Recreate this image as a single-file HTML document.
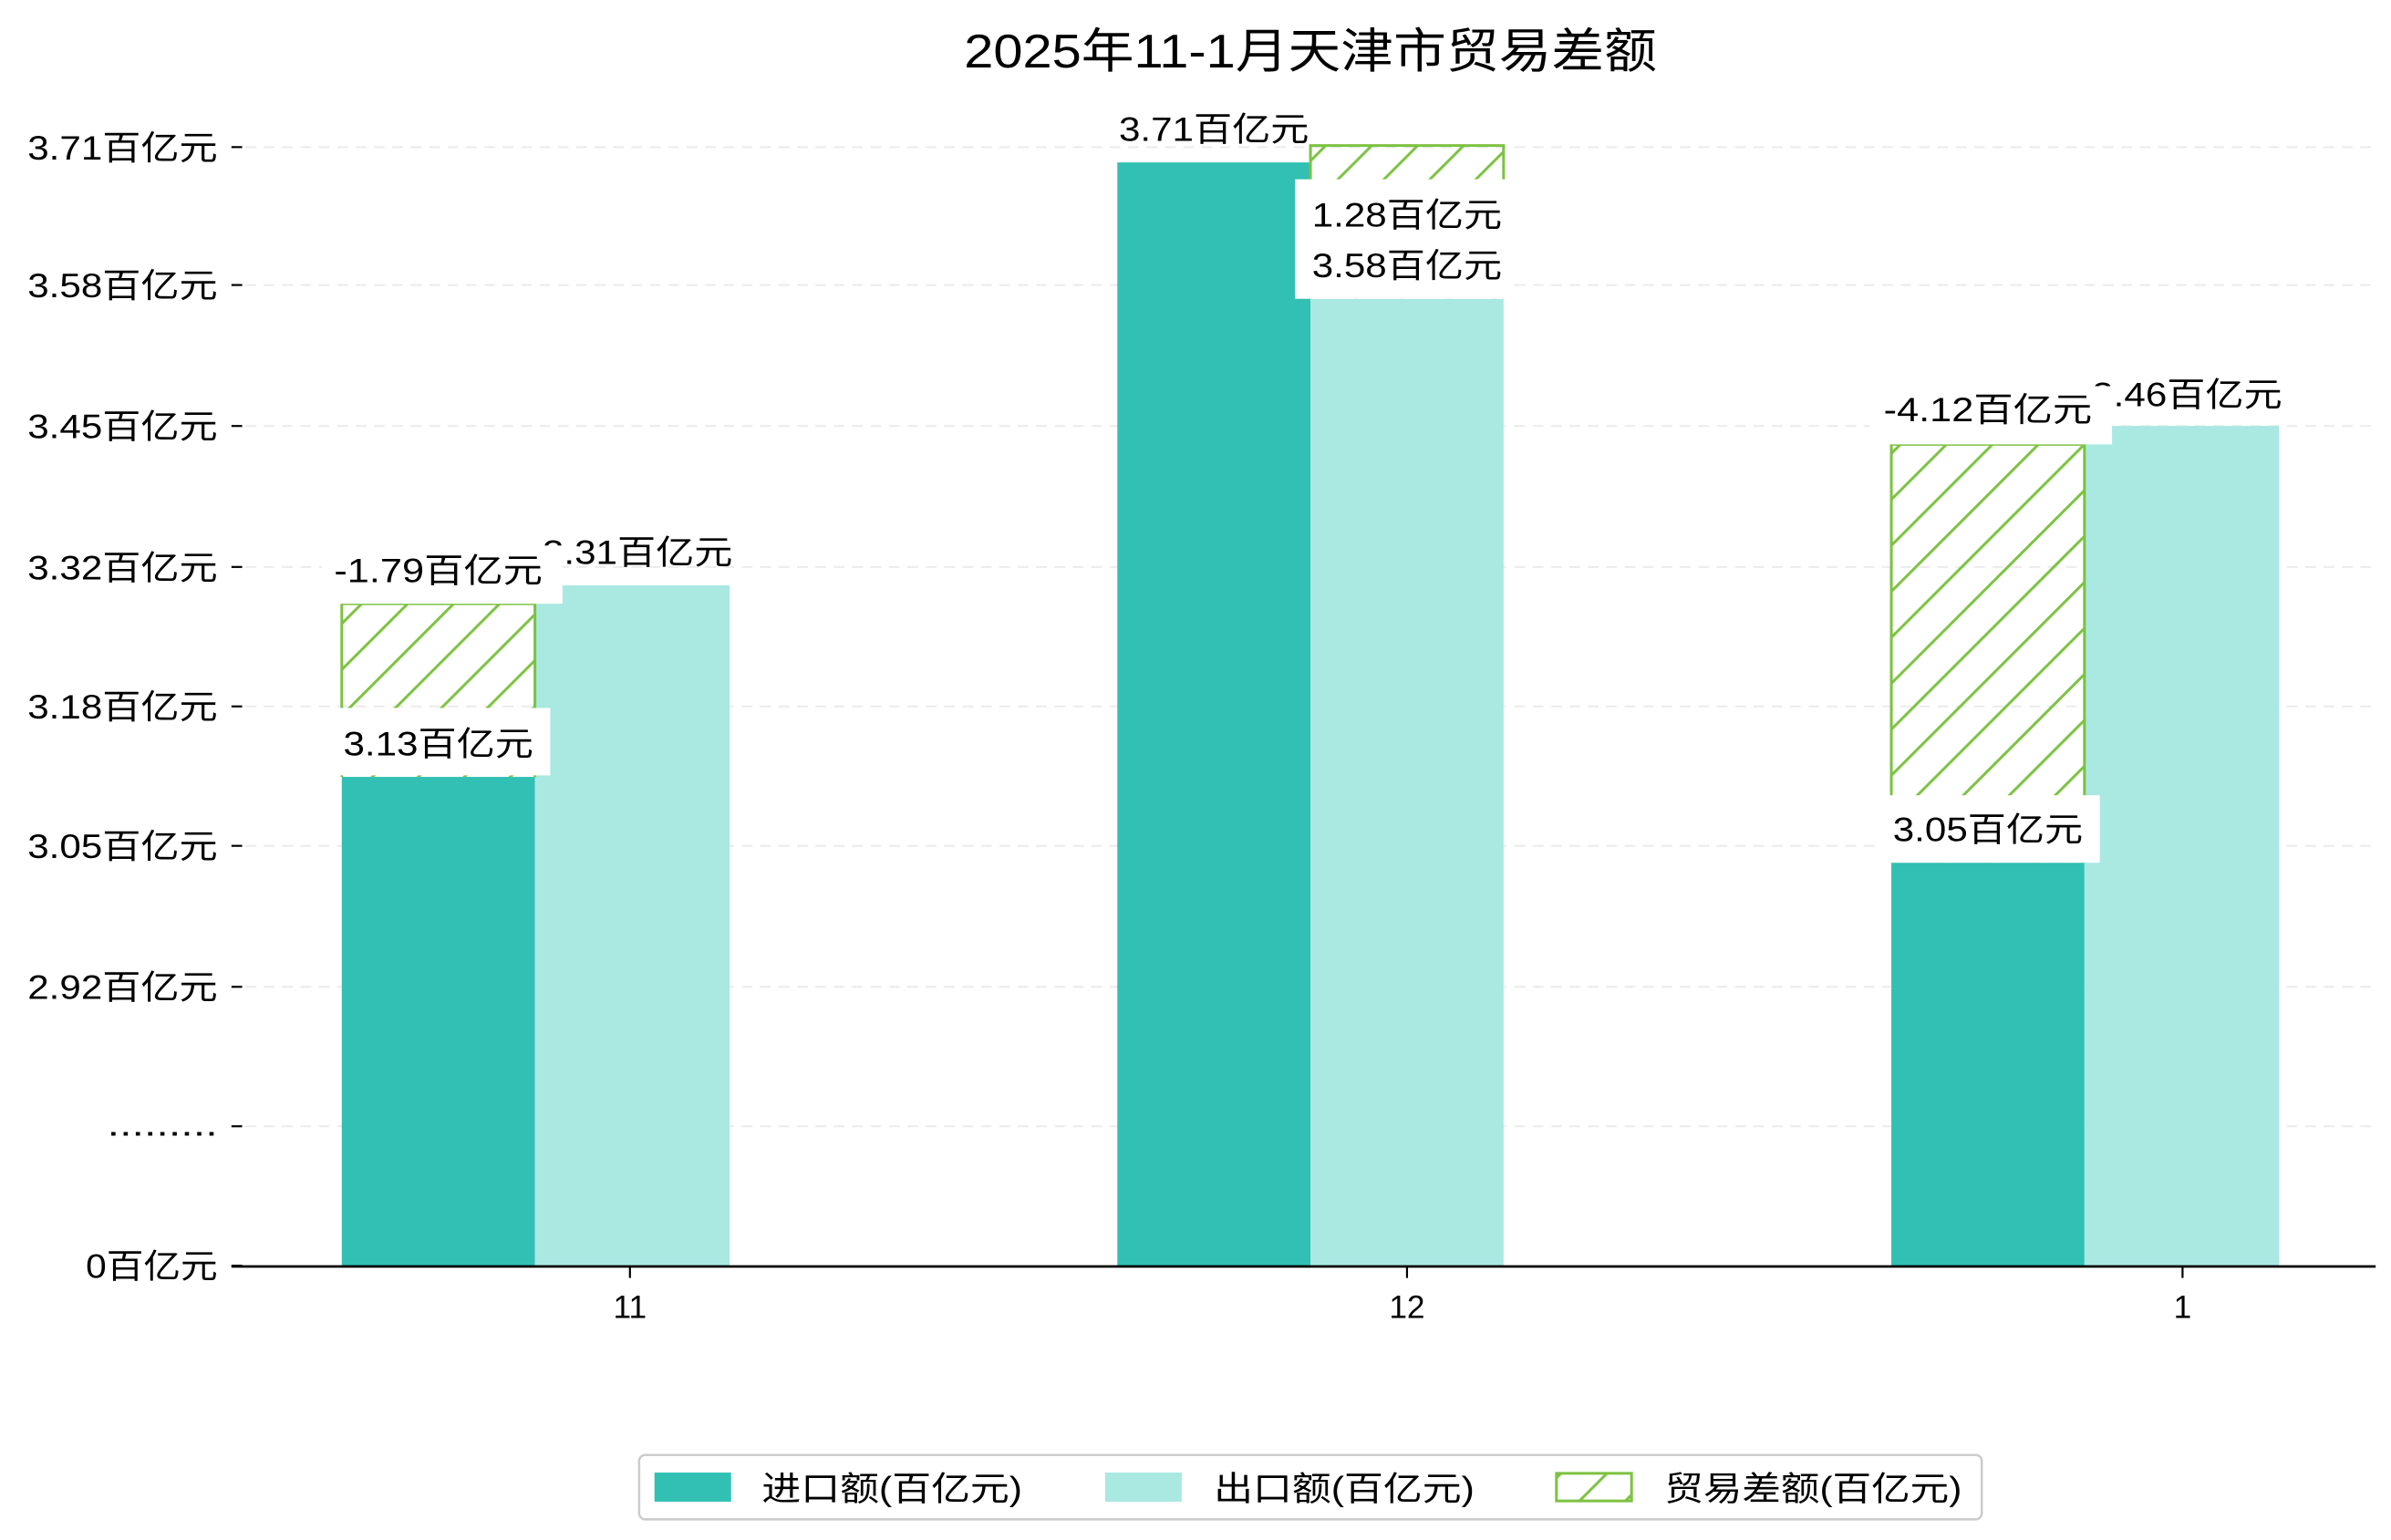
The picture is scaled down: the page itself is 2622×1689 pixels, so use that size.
<!DOCTYPE html>
<html><head><meta charset="utf-8"><style>
html,body{margin:0;padding:0;background:#fff;}
svg{display:block;}
text{font-family:"Liberation Sans","Noto Sans CJK SC",sans-serif;fill:#000;}
</style></head><body>
<svg width="2622" height="1689" viewBox="0 0 1560 1005" preserveAspectRatio="none" xmlns="http://www.w3.org/2000/svg">
<defs>
<pattern id="h" patternUnits="userSpaceOnUse" width="30" height="30">
<path d="M-5,5 L5,-5 M0,30 L30,0 M25,35 L35,25" stroke="#7dc242" stroke-width="1.8"/>
</pattern>
</defs>
<rect width="1560" height="1005" fill="#fff"/>
<text x="855" y="44" font-size="31" text-anchor="middle" textLength="452" lengthAdjust="spacingAndGlyphs">2025年11-1月天津市贸易差额</text>
<g stroke="#ebebeb" stroke-width="1.2" stroke-dasharray="7,5">
<line x1="160" y1="96" x2="1550" y2="96"/><line x1="160" y1="186" x2="1550" y2="186"/>
<line x1="160" y1="278" x2="1550" y2="278"/><line x1="160" y1="370" x2="1550" y2="370"/>
<line x1="160" y1="461" x2="1550" y2="461"/><line x1="160" y1="552" x2="1550" y2="552"/>
<line x1="160" y1="644" x2="1550" y2="644"/><line x1="160" y1="735" x2="1550" y2="735"/>
</g>
<g stroke="#000" stroke-width="1.3">
<line x1="151" y1="96" x2="158" y2="96"/><line x1="151" y1="186" x2="158" y2="186"/>
<line x1="151" y1="278" x2="158" y2="278"/><line x1="151" y1="370" x2="158" y2="370"/>
<line x1="151" y1="461" x2="158" y2="461"/><line x1="151" y1="552" x2="158" y2="552"/>
<line x1="151" y1="644" x2="158" y2="644"/><line x1="151" y1="735" x2="158" y2="735"/>
<line x1="151" y1="826" x2="158" y2="826"/>
</g>
<g font-size="22" text-anchor="end">
<text x="142" y="104" textLength="124" lengthAdjust="spacingAndGlyphs">3.71百亿元</text>
<text x="142" y="194" textLength="124" lengthAdjust="spacingAndGlyphs">3.58百亿元</text>
<text x="142" y="286" textLength="124" lengthAdjust="spacingAndGlyphs">3.45百亿元</text>
<text x="142" y="378" textLength="124" lengthAdjust="spacingAndGlyphs">3.32百亿元</text>
<text x="142" y="469" textLength="124" lengthAdjust="spacingAndGlyphs">3.18百亿元</text>
<text x="142" y="560" textLength="124" lengthAdjust="spacingAndGlyphs">3.05百亿元</text>
<text x="142" y="652" textLength="124" lengthAdjust="spacingAndGlyphs">2.92百亿元</text>
<text x="142" y="741" textLength="72" lengthAdjust="spacingAndGlyphs">.........</text>
<text x="142" y="834" textLength="86" lengthAdjust="spacingAndGlyphs">0百亿元</text>
</g>
<rect x="223" y="507" width="126" height="319" fill="#31c0b3"/>
<rect x="349" y="382" width="127" height="444" fill="#aae8e2"/>
<rect x="729" y="106" width="126" height="720" fill="#31c0b3"/>
<rect x="855" y="195" width="126" height="631" fill="#aae8e2"/>
<rect x="1234" y="563" width="126" height="263" fill="#31c0b3"/>
<rect x="1360" y="278" width="127" height="548" fill="#aae8e2"/>
<rect x="223" y="394" width="126" height="113" fill="url(#h)"/>
<path d="M223,507 V394 H349 V507" fill="none" stroke="#7dc242" stroke-width="1.8"/>
<rect x="855" y="95" width="126" height="100" fill="url(#h)"/>
<path d="M855,195 V95 H981 V195" fill="none" stroke="#7dc242" stroke-width="1.8"/>
<rect x="1234" y="290" width="126" height="273" fill="url(#h)"/>
<path d="M1234,563 V290 H1360 V563" fill="none" stroke="#7dc242" stroke-width="1.8"/>
<g font-size="22" text-anchor="middle">
<text x="416" y="368" textLength="124" lengthAdjust="spacingAndGlyphs">3.31百亿元</text>
<rect x="210" y="356" width="157" height="38" fill="#fff"/>
<text x="286" y="380" textLength="136" lengthAdjust="spacingAndGlyphs">-1.79百亿元</text>
<rect x="213" y="462" width="146" height="44" fill="#fff"/>
<text x="286" y="493" textLength="124" lengthAdjust="spacingAndGlyphs">3.13百亿元</text>
<text x="792" y="92" textLength="124" lengthAdjust="spacingAndGlyphs">3.71百亿元</text>
<rect x="845" y="117" width="140" height="78" fill="#fff"/>
<text x="918" y="148" textLength="124" lengthAdjust="spacingAndGlyphs">1.28百亿元</text>
<text x="918" y="181" textLength="124" lengthAdjust="spacingAndGlyphs">3.58百亿元</text>
<text x="1427" y="265" textLength="124" lengthAdjust="spacingAndGlyphs">3.46百亿元</text>
<rect x="1220" y="252" width="158" height="38" fill="#fff"/>
<text x="1297" y="275" textLength="136" lengthAdjust="spacingAndGlyphs">-4.12百亿元</text>
<rect x="1224" y="519" width="146" height="44" fill="#fff"/>
<text x="1297" y="549" textLength="124" lengthAdjust="spacingAndGlyphs">3.05百亿元</text>
</g>
<line x1="151" y1="826.5" x2="1550" y2="826.5" stroke="#000" stroke-width="1.6"/>
<g stroke="#000" stroke-width="1.3">
<line x1="411" y1="827" x2="411" y2="834"/><line x1="918" y1="827" x2="918" y2="834"/><line x1="1424" y1="827" x2="1424" y2="834"/>
</g>
<g font-size="21" text-anchor="middle">
<text x="411" y="860">11</text><text x="918" y="860">12</text><text x="1424" y="860">1</text>
</g>
<rect x="417" y="949.5" width="876" height="42" rx="4" fill="#fff" stroke="#cccccc" stroke-width="1.5"/>
<rect x="427" y="961" width="50" height="19" fill="#31c0b3"/>
<rect x="721" y="961" width="50" height="19" fill="#aae8e2"/>
<rect x="1015.5" y="961.5" width="49" height="18" fill="url(#h)" stroke="#7dc242" stroke-width="1.8"/>
<g font-size="22">
<text x="497" y="979" textLength="170" lengthAdjust="spacingAndGlyphs">进口额(百亿元)</text>
<text x="792" y="979" textLength="170" lengthAdjust="spacingAndGlyphs">出口额(百亿元)</text>
<text x="1086" y="979" textLength="194" lengthAdjust="spacingAndGlyphs">贸易差额(百亿元)</text>
</g>
</svg>
</body></html>
